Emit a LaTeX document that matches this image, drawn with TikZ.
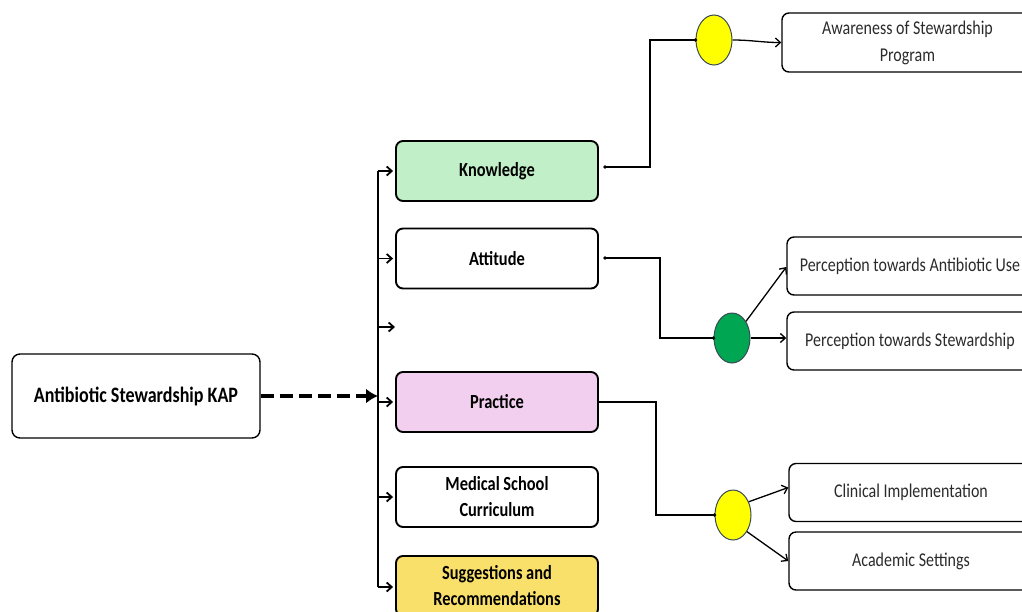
\documentclass[tikz,border=0pt]{standalone}
\usepackage{fontspec}
\setmainfont{Carlito}[FakeStretch=0.82]
\usetikzlibrary{arrows.meta,shapes.geometric,calc}
\definecolor{kgreen}{HTML}{C1F0C8}
\definecolor{ppink}{HTML}{F2CFEE}
\definecolor{syellow}{HTML}{F9E06A}
\definecolor{cyellow}{HTML}{FFFF00}
\definecolor{cgreen}{HTML}{00A651}
\definecolor{cborder}{HTML}{3A4A55}
\definecolor{rtext}{HTML}{2B2B2B}
\begin{document}
\begin{tikzpicture}[x=1pt,y=-1pt,
  rootbox/.style={draw=black,line width=1.4pt,rounded corners=8pt,fill=white,
    minimum width=248pt,minimum height=84pt,font=\fontsize{22}{24}\selectfont\bfseries},
  midbox/.style={draw=black,line width=1.9pt,rounded corners=7pt,fill=white,
    minimum width=202pt,minimum height=60pt,align=center,
    font=\fontsize{20}{26}\selectfont\bfseries},
  rbox/.style={draw=black,line width=1.4pt,rounded corners=7pt,fill=white,
    minimum width=246pt,minimum height=58pt,align=center,text=rtext,
    font=\fontsize{19.5}{27}\selectfont},
  blob/.style={ellipse,draw=cborder,line width=1pt,minimum width=36pt,minimum height=50pt,inner sep=0pt},
  trunkline/.style={line width=1.9pt,draw=black},
  brarrow/.style={line width=1.8pt,-{Straight Barb[length=5pt,width=9pt]},shorten >=2pt},
  conn/.style={line width=1.3pt,draw=black},
  connarrow/.style={line width=1.3pt,-{Straight Barb[length=5pt,width=9pt]}},
  dasharrow/.style={line width=4.5pt,dash pattern=on 13pt off 6pt,-{Latex[length=12pt,width=15pt]}},
  dotmark/.style={fill=black}
]
\clip (0,0) rectangle (1022,611);
\fill[white] (0,0) rectangle (1022,611);

% root
\node[rootbox] (root) at (136,396) {Antibiotic Stewardship KAP};

% middle column
\node[midbox,fill=kgreen] (know) at (497,171) {Knowledge};
\node[midbox] (att) at (497,258.5) {Attitude};
\node[midbox,fill=ppink] (prac) at (497,402) {Practice};
\node[midbox] (med) at (497,497) {Medical School\\Curriculum};
\node[midbox,fill=syellow] (sug) at (497,586) {Suggestions and\\Recommendations};

% trunk coordinates
\coordinate (tK) at (378,171);
\coordinate (tA) at (378,258.5);
\coordinate (tE) at (378,327);
\coordinate (eE) at (395,327);
\coordinate (tP) at (378,402);
\coordinate (tR) at (378,396);
\coordinate (tM) at (378,497);
\coordinate (tS) at (378,587);

\draw[trunkline] (tK) -- (tS);
\draw[dasharrow] (root.east) -- (tR);
\draw[brarrow] (tK) -- (know.west);
\draw[brarrow] (tA) -- (att.west);
\draw[brarrow,shorten >=0pt] (tE) -- (eE);
\draw[brarrow] (tP) -- (prac.west);
\draw[brarrow] (tM) -- (med.west);
\draw[brarrow] (tS) -- (tS -| sug.west);

% right boxes
\node[rbox,minimum width=251pt,minimum height=59pt] (aw) at (907.5,42.5) {Awareness of Stewardship\\Program};
\node[rbox] (pa) at (910,266) {Perception towards Antibiotic Use};
\node[rbox] (ps) at (910,341) {Perception towards Stewardship};
\node[rbox,minimum width=244pt] (cl) at (911,492.5) {Clinical Implementation};
\node[rbox,minimum width=244pt] (ac) at (911,561) {Academic Settings};

% circles
\node[blob,fill=cyellow] (y1) at (714,40) {};
\node[blob,fill=cgreen] (g1) at (732,338) {};
\node[blob,fill=cyellow] (y2) at (733,515) {};

% knowledge branch
\coordinate (kd) at (605,167);
\coordinate (kx) at (650,0);
\draw[conn] (kd) -- (kd -| kx) |- (y1.west);
\fill[dotmark] (kd) circle (1.8);
\fill[dotmark] (y1.west) circle (1.8);
\draw[connarrow] (y1.east) to[out=0,in=180] (aw.west);

% attitude branch
\coordinate (ad) at (605,258);
\coordinate (ax) at (660,0);
\draw[conn] (ad) -- (ad -| ax) |- (g1.west);
\fill[dotmark] (ad) circle (1.8);
\fill[dotmark] (g1.west) circle (1.8);
\draw[connarrow] (g1.50) -- ([yshift=-1pt]pa.west);
\draw[connarrow] (g1.east) -- (g1.east -| ps.west);

% practice branch
\coordinate (px) at (656,0);
\draw[conn] (prac.east) -- (prac.east -| px) |- (y2.west);
\fill[dotmark] (y2.west) circle (1.8);
\draw[connarrow] (y2.40) -- ([yshift=5pt]cl.west);
\draw[connarrow] (y2.-50) -- (ac.west);
\end{tikzpicture}
\end{document}
